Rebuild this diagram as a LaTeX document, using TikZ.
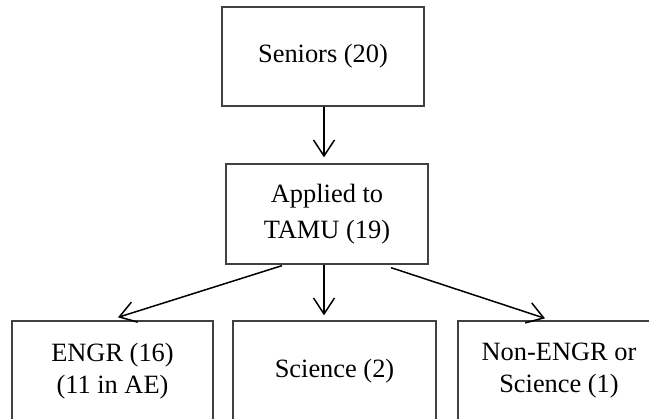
\documentclass[tikz,border=0pt]{standalone}
\usepackage{fontspec}
\setmainfont{Liberation Serif}
\usetikzlibrary{arrows.meta,calc}
\begin{document}
\begin{tikzpicture}[x=1pt,y=-1pt,
  box/.style={draw=black!75, line width=1.3pt, minimum height=100pt, inner sep=0pt, align=center,
    font=\fontsize{26.4}{32}\selectfont},
  arr/.style={line width=1.5pt, -{Straight Barb[length=16pt,width=21pt]}}]
\path[use as bounding box, clip] (0,0) rectangle (649,419);
\node[box, minimum width=202pt, minimum height=99pt] (top) at (323,56.5) {Seniors (20)};
\node[box, minimum width=202pt, font=\fontsize{26.4}{36}\selectfont] (mid) at (327,214) {Applied to\\TAMU (19)};
\node[box, minimum width=201pt] (engr) at (112.5,371) {ENGR (16)\\(11 in AE)};
\node[box, minimum width=203pt] (sci) at (334.5,371) {Science (2)};
\node[box, minimum width=202pt] (non) at (559,371) {Non-ENGR or\\Science (1)};
\draw[arr] ($(top.south)+(1,0)$) -- ($(mid.north)+(-3,-6)$);
\draw[arr] ($(mid.south)+(-3,0)$) -- ($(sci.north)+(-10.5,-5)$);
\draw[arr] ($(mid.south)+(-45,1)$) -- ($(engr.north)+(5.5,-3)$);
\draw[arr] ($(mid.south)+(64,3)$) -- ($(non.north)+(-14,-2)$);
\end{tikzpicture}
\end{document}
